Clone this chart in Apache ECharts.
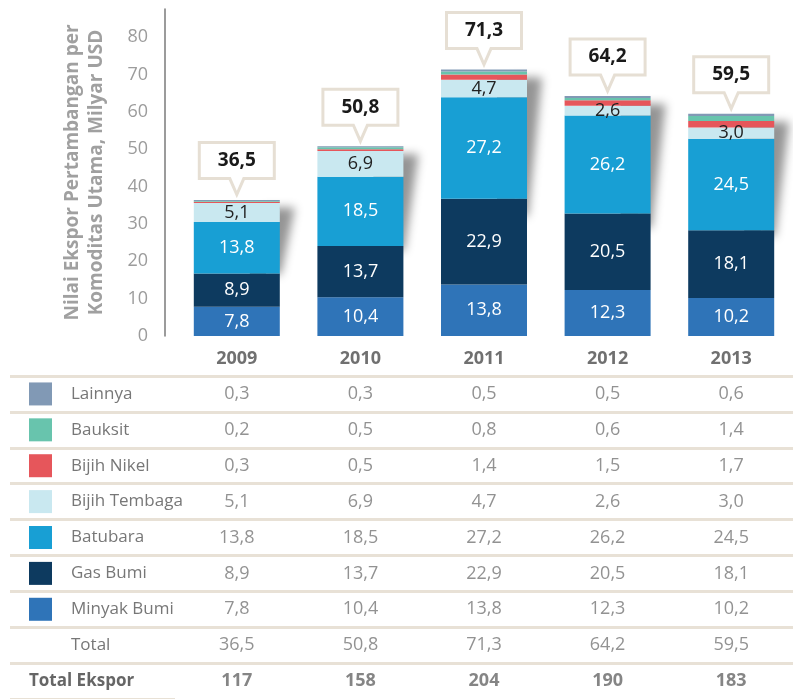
<!DOCTYPE html>
<html>
<head>
<meta charset="utf-8">
<script src="https://cdn.jsdelivr.net/npm/echarts@6/dist/echarts.min.js"></script>
<style>
  html, body { margin: 0; padding: 0; background: #ffffff; }
  #chart { width: 793px; height: 699px; }
</style>
</head>
<body>
<div id="chart"></div>
<script>
// Nilai ekspor pertambangan per komoditas utama (Milyar USD)
const years = ['2009', '2010', '2011', '2012', '2013'];
const minyakBumi   = [7.8, 10.4, 13.8, 12.3, 10.2];
const gasBumi      = [8.9, 13.7, 22.9, 20.5, 18.1];
const batubara     = [13.8, 18.5, 27.2, 26.2, 24.5];
const bijihTembaga = [5.1, 6.9, 4.7, 2.6, 3.0];
const bijihNikel   = [0.3, 0.5, 1.4, 1.5, 1.7];
const bauksit      = [0.2, 0.5, 0.8, 0.6, 1.4];
const lainnya      = [0.3, 0.3, 0.5, 0.5, 0.6];
const totalKomoditas = [36.5, 50.8, 71.3, 64.2, 59.5];
const totalEkspor    = [117, 158, 204, 190, 183];

const FONT = "'Open Sans', 'Noto Sans', sans-serif";
const BAR_W = 86;

// stacked from the bottom up
const stackSeries = [
  { name: 'Minyak Bumi',   data: minyakBumi,   color: '#2f74b8', label: '#ffffff', show: true },
  { name: 'Gas Bumi',      data: gasBumi,      color: '#0d3a5f', label: '#ffffff', show: true },
  { name: 'Batubara',      data: batubara,     color: '#189fd4', label: '#ffffff', show: true },
  { name: 'Bijih Tembaga', data: bijihTembaga, color: '#c9e8f0', label: '#222222', show: true },
  { name: 'Bijih Nikel',   data: bijihNikel,   color: '#e6565b', label: '#ffffff', show: false },
  { name: 'Bauksit',       data: bauksit,      color: '#68c4ad', label: '#ffffff', show: false },
  { name: 'Lainnya',       data: lainnya,      color: '#8199b5', label: '#ffffff', show: false }
];

// table rows, top to bottom
const tableRows = stackSeries.slice().reverse();
const rowNames = tableRows.map(s => s.name).concat(['Total', 'Total Ekspor']);

const fmt = v => v.toFixed(1).replace('.', ',');

const rich = {
  name: { fontFamily: FONT, fontSize: 17, color: '#777777', padding: [0, 0, 0, 19] },
  plain: { fontFamily: FONT, fontSize: 17, color: '#777777', padding: [0, 0, 0, 42] },
  bold: { fontFamily: FONT, fontSize: 17, fontWeight: 'bold', color: '#666666' }
};
tableRows.forEach((s, i) => {
  rich['sw' + i] = { width: 23, height: 23, backgroundColor: s.color };
});

const cellData = [];
tableRows.forEach((s, r) => s.data.forEach((v, i) => cellData.push([i, r, fmt(v)])));
totalKomoditas.forEach((v, i) => cellData.push([i, 7, fmt(v)]));
const eksporData = totalEkspor.map((v, i) => [i, 8, String(v)]);

const series = [];

// soft shadow falling to the right of each column
series.push({
  type: 'custom',
  xAxisIndex: 0, yAxisIndex: 0,
  z: 1, silent: true,
  data: totalKomoditas.map((t, i) => [i, t]),
  renderItem(params, api) {
    const top = api.coord([api.value(0), api.value(1)]);
    const base = api.coord([api.value(0), 0]);
    const xr = top[0] + BAR_W / 2;
    const h = base[1] - top[1];
    return {
      type: 'polygon',
      shape: { points: [[xr - 30, top[1] + 8], [xr, top[1] + 8], [xr - 14, top[1] + h * 0.55], [xr - 30, top[1] + h * 0.55]] },
      style: { fill: '#999999', shadowBlur: 10, shadowColor: 'rgba(0,0,0,0.42)', shadowOffsetX: 15, shadowOffsetY: 0 }
    };
  }
});

stackSeries.forEach(s => {
  series.push({
    name: s.name,
    type: 'bar',
    stack: 'ekspor',
    xAxisIndex: 0, yAxisIndex: 0,
    barWidth: BAR_W,
    z: 2,
    data: s.data,
    itemStyle: { color: s.color },
    label: {
      show: s.show,
      position: 'inside',
      color: s.label,
      fontFamily: FONT,
      fontSize: 18,
      formatter: p => fmt(p.value)
    },
    emphasis: { disabled: true }
  });
});

// callout boxes with the column totals
series.push({
  type: 'custom',
  xAxisIndex: 0, yAxisIndex: 0,
  z: 5, silent: true,
  data: totalKomoditas.map((t, i) => [i, t]),
  renderItem(params, api) {
    const p = api.coord([api.value(0), api.value(1)]);
    const cx = p[0];
    const tip = p[1] - 5;
    const bottom = tip - 16;
    const topY = bottom - 36;
    const hw = 37.5;
    return {
      type: 'group',
      children: [
        {
          type: 'polygon',
          shape: { points: [[cx - hw, topY], [cx + hw, topY], [cx + hw, bottom], [cx + 7, bottom], [cx, tip], [cx - 7, bottom], [cx - hw, bottom]] },
          style: { fill: '#ffffff', stroke: '#e6dfd4', lineWidth: 3, lineJoin: 'miter' }
        },
        {
          type: 'text',
          style: {
            text: fmt(api.value(1)),
            x: cx, y: topY + 18,
            align: 'center', verticalAlign: 'middle',
            fontFamily: FONT, fontSize: 19, fontWeight: 'bold', fill: '#1a1a1a'
          }
        }
      ]
    };
  }
});

// table cells
series.push({
  type: 'scatter',
  xAxisIndex: 1, yAxisIndex: 1,
  symbolSize: 0, silent: true,
  data: cellData,
  label: {
    show: true, position: 'inside',
    formatter: p => p.data[2],
    fontFamily: FONT, fontSize: 18, color: '#777777'
  }
});
series.push({
  type: 'scatter',
  xAxisIndex: 1, yAxisIndex: 1,
  symbolSize: 0, silent: true,
  data: eksporData,
  label: {
    show: true, position: 'inside',
    formatter: p => p.data[2],
    fontFamily: FONT, fontSize: 18, fontWeight: 'bold', color: '#666666'
  }
});

const ruleStyle = { color: '#e8e1d6', width: 3 };

const option = {
  animation: false,
  backgroundColor: '#ffffff',
  textStyle: { fontFamily: FONT },
  grid: [
    { left: 175, top: 9, width: 621, height: 327 },
    { left: 175, top: 376, width: 621, height: 326 }
  ],
  xAxis: [
    {
      type: 'category', gridIndex: 0, data: years,
      axisLine: { show: false }, axisTick: { show: false },
      axisLabel: { margin: 14, fontFamily: FONT, fontSize: 18, fontWeight: 'bold', color: '#707070' }
    },
    { type: 'category', gridIndex: 1, data: years, show: false }
  ],
  yAxis: [
    {
      type: 'value', gridIndex: 0, min: 0, max: 87.5, interval: 10,
      offset: 10,
      name: 'Nilai Ekspor Pertambangan per\nKomoditas Utama, Milyar USD',
      nameLocation: 'middle', nameRotate: 90, nameGap: 56,
      nameTextStyle: { fontFamily: FONT, fontSize: 19, fontWeight: 'bold', color: '#a0a0a0', lineHeight: 24, align: 'center' },
      axisLine: { show: true, lineStyle: { color: '#7a7a7a', width: 1.5 } },
      axisTick: { show: false },
      splitLine: { show: false },
      axisLabel: {
        margin: 17, fontFamily: FONT, fontSize: 18, color: '#9c9c9c',
        formatter: v => (v % 10 === 0 ? String(v) : '')
      }
    },
    {
      type: 'category', gridIndex: 1, data: rowNames, inverse: true,
      axisLine: { show: false },
      axisTick: { show: true, length: 165, lineStyle: ruleStyle },
      splitLine: { show: true, showMaxLine: false, lineStyle: ruleStyle },
      axisLabel: {
        align: 'left', margin: 146,
        formatter: (name, idx) => {
          if (idx < 7) return '{sw' + idx + '|}{name|' + name + '}';
          if (idx === 7) return '{plain|' + name + '}';
          return '{bold|' + name + '}';
        },
        rich: rich
      }
    }
  ],
  series: series
};

const chart = echarts.init(document.getElementById('chart'), null, { renderer: 'canvas' });
chart.setOption(option);
</script>
</body>
</html>
